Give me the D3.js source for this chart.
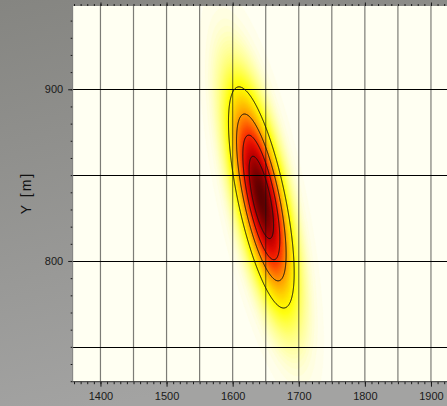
<!DOCTYPE html>
<html>
<head>
<meta charset="utf-8">
<script src="https://cdn.jsdelivr.net/npm/d3@7"></script>
<style>
  html, body { margin: 0; padding: 0; background: #8f8f8c; }
  svg { display: block; }
  text { font-family: "Liberation Sans", Arial, sans-serif; }
</style>
</head>
<body>
<svg id="chart" width="447" height="406"></svg>
<script>
// Axis tick labels and grid positions (metres)
const xTickLabels = [1400, 1500, 1600, 1700, 1800, 1900];
const yTickLabels = [800, 900];
const xGridLines = [1400, 1450, 1500, 1550, 1600, 1650, 1700, 1750, 1800, 1850, 1900];
const yGridLines = [750, 800, 850, 900];

// Visible extent of the map
const xExtent = [1358, 1930];
const yExtent = [729.7, 948.5];

// Bivariate normal position estimate: mean, standard deviations, correlation
const meanXY = [1642.6, 837.3];
const sigmaXY = [27.7, 35.9];
const correlation = [-0.68];

// Contour levels, as a fraction of the peak density
const contourLevels = [0.2, 0.4, 0.6, 0.8];

// Colour ramp for the density surface
const rampStops = [0, 0.01, 0.04, 0.1, 0.17, 0.22, 0.3, 0.4, 0.5, 0.6, 0.7, 0.8, 0.9, 1.0];
const rampColors = ["#fffff2", "#fffee4", "#ffffb0", "#ffff62", "#ffff14", "#fff200", "#ffcc00",
                    "#ff9a00", "#ff6000", "#f82c00", "#e00c00", "#b80000", "#880000", "#5c0000"];

const W = 447, H = 406;
const plotLeft = 72.7, plotTop = 6, plotBottom = 381.7;

const x = d3.scaleLinear().domain(xExtent).range([plotLeft, plotLeft + (xExtent[1] - xExtent[0]) * 0.661]);
const y = d3.scaleLinear().domain(yExtent).range([plotBottom, plotTop]);
const color = d3.scaleLinear().domain(rampStops).range(rampColors).interpolate(d3.interpolateRgb).clamp(true);

const svg = d3.select("#chart");
const defs = svg.append("defs");

// Gray page background
const bg = defs.append("linearGradient").attr("id", "bg").attr("x1", 0).attr("y1", 0).attr("x2", 0.25).attr("y2", 1);
bg.append("stop").attr("offset", "0%").attr("stop-color", "#858581");
bg.append("stop").attr("offset", "100%").attr("stop-color", "#a3a3a2");
svg.append("rect").attr("width", W).attr("height", H).attr("fill", "url(#bg)");

const plotW = x.range()[1] - plotLeft;
const plotH = plotBottom - plotTop;
defs.append("clipPath").attr("id", "plotClip")
  .append("rect").attr("x", plotLeft).attr("y", plotTop).attr("width", plotW).attr("height", plotH);

const plot = svg.append("g").attr("clip-path", "url(#plotClip)");
plot.append("rect").attr("x", plotLeft).attr("y", plotTop).attr("width", plotW).attr("height", plotH).attr("fill", "#fffff2");

// Density sampled on a one-pixel grid over the plot area
const nx = Math.ceil(W - plotLeft) + 1, ny = Math.ceil(plotH) + 1;
const [mx, my] = meanXY, [sx, sy] = sigmaXY, rho = correlation[0];
const k = 1 / (1 - rho * rho);
const grid = new Float64Array(nx * ny);
for (let j = 0; j < ny; j++) {
  const dy = (y.invert(plotTop + j) - my) / sy;
  for (let i = 0; i < nx; i++) {
    const dx = (x.invert(plotLeft + i) - mx) / sx;
    grid[j * nx + i] = Math.exp(-0.5 * k * (dx * dx - 2 * rho * dx * dy + dy * dy));
  }
}

const toPlot = d3.geoPath(d3.geoIdentity().translate([plotLeft, plotTop]));

// Filled density bands
const step = 0.006;
const bandThresholds = d3.range(0.003, 1, step);
const bands = d3.contours().size([nx, ny]).thresholds(bandThresholds)(grid);
plot.append("g").selectAll("path").data(bands).join("path")
  .attr("d", toPlot)
  .attr("fill", d => color(d.value + step / 2))
  .attr("stroke", d => color(d.value + step / 2))
  .attr("stroke-width", 0.3);

// Grid lines
plot.append("g").selectAll("line").data(xGridLines).join("line")
  .attr("x1", d => x(d)).attr("x2", d => x(d))
  .attr("y1", plotTop).attr("y2", plotBottom)
  .attr("stroke", "#111").attr("stroke-opacity", 0.55).attr("stroke-width", 1.2);
plot.append("g").selectAll("line").data(yGridLines).join("line")
  .attr("x1", plotLeft).attr("x2", W)
  .attr("y1", d => Math.round(y(d)) + 0.5).attr("y2", d => Math.round(y(d)) + 0.5)
  .attr("stroke", "#000").attr("stroke-width", 1);

// Contour lines
const lines = d3.contours().size([nx, ny]).thresholds(contourLevels)(grid);
plot.append("g").selectAll("path").data(lines).join("path")
  .attr("d", toPlot)
  .attr("fill", "none").attr("stroke", "#111").attr("stroke-width", 1);

// Axes
function styleAxis(g) {
  g.select(".domain").remove();
  g.selectAll(".tick line").attr("stroke", "#1a1a1a");
  g.selectAll(".tick text").attr("fill", "#1a1a1a").style("font-size", "11px")
    .style("font-family", "'Liberation Sans', Arial, sans-serif");
}
const xMinor = d3.range(1360, 1930, 10);
const yMinor = d3.range(730, 950, 10);

svg.append("g").attr("transform", `translate(0,${plotBottom})`)
  .call(d3.axisBottom(x).tickValues(xMinor).tickSize(2.5).tickFormat("")).call(styleAxis);
svg.append("g").attr("transform", `translate(0,${plotBottom})`)
  .call(d3.axisBottom(x).tickValues(xTickLabels).tickSize(5).tickPadding(6).tickFormat(d3.format("d")))
  .call(styleAxis);

svg.append("g").attr("transform", `translate(0,${plotTop})`)
  .call(d3.axisTop(x).tickValues(xMinor).tickSize(2).tickFormat("")).call(styleAxis);
svg.append("g").attr("transform", `translate(0,${plotTop})`)
  .call(d3.axisTop(x).tickValues(xTickLabels).tickSize(3.5).tickFormat("")).call(styleAxis);

svg.append("g").attr("transform", `translate(${plotLeft},0)`)
  .call(d3.axisLeft(y).tickValues(yMinor).tickSize(2).tickFormat("")).call(styleAxis);
svg.append("g").attr("transform", `translate(${plotLeft},0)`)
  .call(d3.axisLeft(y).tickValues(yTickLabels).tickSize(4.5).tickPadding(5).tickFormat(d3.format("d")))
  .call(styleAxis);

// Plot frame edges
svg.append("line").attr("x1", plotLeft).attr("x2", W).attr("y1", plotBottom).attr("y2", plotBottom)
  .attr("stroke", "#333").attr("stroke-width", 1);
svg.append("line").attr("x1", plotLeft).attr("x2", plotLeft).attr("y1", plotTop).attr("y2", plotBottom)
  .attr("stroke", "#777").attr("stroke-width", 0.8);

// Y axis title
svg.append("text")
  .attr("transform", "translate(31,193) rotate(-90)")
  .attr("text-anchor", "middle")
  .attr("fill", "#111")
  .style("font-size", "14px")
  .style("letter-spacing", "2px")
  .text("Y [m]");
</script>
</body>
</html>
